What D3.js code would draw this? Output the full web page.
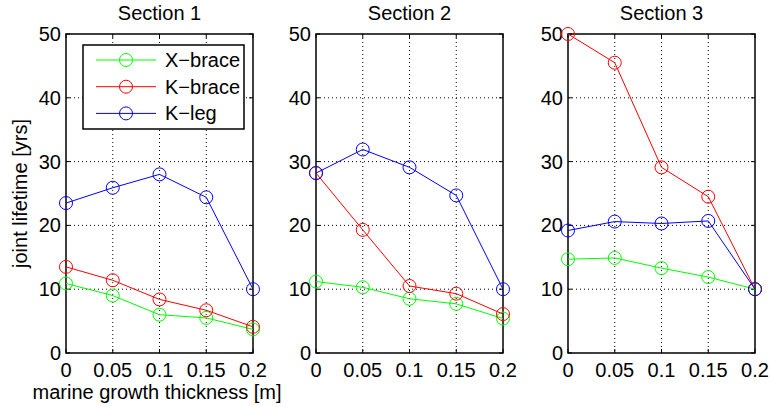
<!DOCTYPE html>
<html>
<head>
<meta charset="utf-8">
<script src="https://cdn.jsdelivr.net/npm/d3@7"></script>
<style>
  body { margin: 0; background: #fff; }
  svg text { font-family: "Liberation Sans", Arial, sans-serif; fill: #000; }
</style>
</head>
<body>
<script>
// marine growth thickness [m]
const thickness = [0, 0.05, 0.1, 0.15, 0.2]
const xTicks = [0, 0.05, 0.1, 0.15, 0.2]
const yTicks = [0, 10, 20, 30, 40, 50]

const sections = ["Section 1", "Section 2", "Section 3"]
const seriesNames = ["X\u2212brace", "K\u2212brace", "K\u2212leg"]
const seriesColors = ["#00ff00", "#ff0000", "#0000ff"]

// joint lifetime [yrs], one array per section and series
const xBrace1 = [10.9, 9.0, 6.0, 5.5, 3.7]
const kBrace1 = [13.5, 11.4, 8.4, 6.7, 4.1]
const kLeg1   = [23.5, 25.9, 28.0, 24.4, 10.0]

const xBrace2 = [11.2, 10.3, 8.5, 7.7, 5.4]
const kBrace2 = [28.2, 19.3, 10.5, 9.3, 6.1]
const kLeg2   = [28.2, 31.9, 29.1, 24.7, 10.0]

const xBrace3 = [14.7, 14.9, 13.3, 11.9, 10.0]
const kBrace3 = [50.0, 45.5, 29.1, 24.5, 10.0]
const kLeg3   = [19.2, 20.6, 20.3, 20.7, 10.0]

const panelData = [
    [xBrace1, kBrace1, kLeg1],
    [xBrace2, kBrace2, kLeg2],
    [xBrace3, kBrace3, kLeg3]
]

const width = 770, height = 407
const panelLeft = [66, 316, 568]
const panelW = 187
const plotTop = 34, plotBottom = 353
const fontSize = 20

const svg = d3.select("body").append("svg")
    .attr("width", width)
    .attr("height", height)

const y = d3.scaleLinear().domain([0, 50]).range([plotBottom, plotTop])

panelData.forEach((series, p) => {
    const x = d3.scaleLinear().domain([0, 0.2]).range([panelLeft[p], panelLeft[p] + panelW])
    const g = svg.append("g")

    // dotted grid
    g.append("g").selectAll("line")
        .data(xTicks.slice(1, -1))
        .enter().append("line")
            .attr("x1", d => x(d)).attr("x2", d => x(d))
            .attr("y1", plotTop).attr("y2", plotBottom)
            .attr("stroke", "#000").attr("stroke-width", 1)
            .attr("stroke-dasharray", "1,3")
    g.append("g").selectAll("line")
        .data(yTicks.slice(1, -1))
        .enter().append("line")
            .attr("x1", x(0)).attr("x2", x(0.2))
            .attr("y1", d => y(d)).attr("y2", d => y(d))
            .attr("stroke", "#000").attr("stroke-width", 1)
            .attr("stroke-dasharray", "1,3")

    // inward ticks on all four sides
    const tl = 4
    xTicks.forEach(t => {
        g.append("line").attr("x1", x(t)).attr("x2", x(t)).attr("y1", plotBottom).attr("y2", plotBottom - tl)
            .attr("stroke", "#000")
        g.append("line").attr("x1", x(t)).attr("x2", x(t)).attr("y1", plotTop).attr("y2", plotTop + tl)
            .attr("stroke", "#000")
    })
    yTicks.forEach(t => {
        g.append("line").attr("x1", x(0)).attr("x2", x(0) + tl).attr("y1", y(t)).attr("y2", y(t))
            .attr("stroke", "#000")
        g.append("line").attr("x1", x(0.2)).attr("x2", x(0.2) - tl).attr("y1", y(t)).attr("y2", y(t))
            .attr("stroke", "#000")
    })

    // frame
    g.append("rect")
        .attr("x", x(0)).attr("y", plotTop)
        .attr("width", x(0.2) - x(0)).attr("height", plotBottom - plotTop)
        .attr("fill", "none").attr("stroke", "#000").attr("stroke-width", 1.5)

    // tick labels
    g.append("g").selectAll("text")
        .data(xTicks)
        .enter().append("text")
            .attr("x", d => x(d))
            .attr("y", 377)
            .attr("text-anchor", "middle")
            .style("font-size", fontSize + "px")
            .text(d => d3.format("")(d))
    g.append("g").selectAll("text")
        .data(yTicks)
        .enter().append("text")
            .attr("x", x(0) - 5)
            .attr("y", d => y(d) + 7)
            .attr("text-anchor", "end")
            .style("font-size", fontSize + "px")
            .text(d => d)

    // title
    g.append("text")
        .attr("x", (x(0) + x(0.2)) / 2)
        .attr("y", 20)
        .attr("text-anchor", "middle")
        .style("font-size", fontSize + "px")
        .text(sections[p])

    // series
    const line = d3.line().x((d, i) => x(thickness[i])).y(d => y(d))
    series.forEach((vals, s) => {
        g.append("path")
            .datum(vals)
            .attr("d", line)
            .attr("fill", "none")
            .attr("stroke", seriesColors[s])
            .attr("stroke-width", 1)
        g.append("g").selectAll("circle")
            .data(vals)
            .enter().append("circle")
                .attr("cx", (d, i) => x(thickness[i]))
                .attr("cy", d => y(d))
                .attr("r", 6.5)
                .attr("fill", "none")
                .attr("stroke", seriesColors[s])
                .attr("stroke-width", 1)
    })
})

// axis labels
svg.append("text")
    .attr("x", 157)
    .attr("y", 399)
    .attr("text-anchor", "middle")
    .style("font-size", fontSize + "px")
    .text("marine growth thickness [m]")

svg.append("text")
    .attr("transform", `translate(27, ${(plotTop + plotBottom) / 2}) rotate(-90)`)
    .attr("text-anchor", "middle")
    .style("font-size", fontSize + "px")
    .text("joint lifetime [yrs]")

// legend
const legend = svg.append("g")
legend.append("rect")
    .attr("x", 83).attr("y", 45)
    .attr("width", 161).attr("height", 84)
    .attr("fill", "#fff").attr("stroke", "#000").attr("stroke-width", 1.5)
seriesNames.forEach((name, i) => {
    const ly = 60 + i * 26.7
    legend.append("line")
        .attr("x1", 96).attr("x2", 156).attr("y1", ly).attr("y2", ly)
        .attr("stroke", seriesColors[i])
    legend.append("circle")
        .attr("cx", 126).attr("cy", ly).attr("r", 6.5)
        .attr("fill", "none").attr("stroke", seriesColors[i])
    legend.append("text")
        .attr("x", 165).attr("y", ly + 7)
        .style("font-size", fontSize + "px")
        .text(name)
})
</script>
</body>
</html>
